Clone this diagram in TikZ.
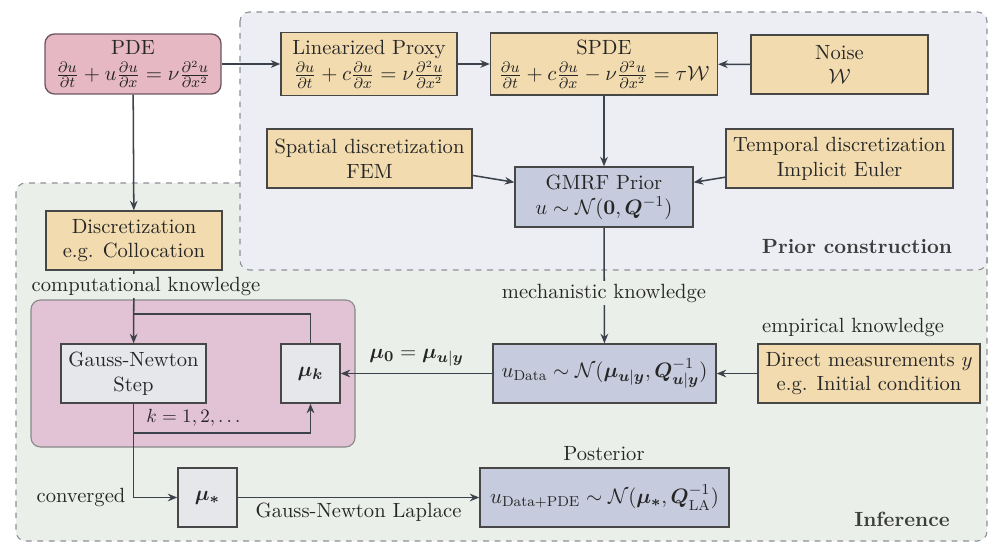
\documentclass[tikz,border=0pt]{standalone}
\usepackage{amsmath,bm}
\usetikzlibrary{arrows.meta}
\definecolor{yel}{HTML}{F2DCAF}
\definecolor{pdefill}{HTML}{E5B8C3}
\definecolor{pdeborder}{HTML}{6E5560}
\definecolor{loopfill}{HTML}{E2C3D5}
\definecolor{bluefill}{HTML}{C6CCDD}
\definecolor{grayfill}{HTML}{E6E7EA}
\definecolor{priorbg}{HTML}{ECEEF4}
\definecolor{infbg}{HTML}{EBEFEA}
\definecolor{regionborder}{HTML}{8C9099}
\definecolor{edgecol}{HTML}{3C424C}
\definecolor{ink}{HTML}{262626}
\newcommand\myfs{\fontsize{10.8}{13}\selectfont}
\begin{document}
\begin{tikzpicture}[x=0.525pt,y=-0.525pt,
  every node/.style={font=\myfs},
  sz/.style 2 args={minimum width=#1*0.525pt, minimum height=#2*0.525pt},
  box/.style={draw=ink!85, line width=0.7pt, inner sep=1pt, align=center, text=ink},
  ybox/.style={box, fill=yel},
  bbox/.style={box, fill=bluefill},
  gbox/.style={box, fill=grayfill},
  region/.style={draw=regionborder, dashed, line width=0.6pt, rounded corners=5pt},
  arr/.style={draw=edgecol, line width=0.8pt, -{Stealth[length=5pt,width=4pt]}},
  ln/.style={draw=edgecol, line width=0.8pt},
  lbl/.style={text=ink, inner sep=1.5pt},
  ttl/.style={text=ink!90, font=\myfs\bfseries}
]
\useasboundingbox[fill=white] (0,0) rectangle (1000,551);
% regions
\draw[region, fill=infbg] (16,183) rectangle (987,541);
\draw[region, fill=priorbg] (240,12) rectangle (987,270);
\draw[fill=loopfill, draw=ink!55, line width=0.6pt, rounded corners=5pt] (31,300) rectangle (355,447);

% nodes
\node[box, fill=pdefill, draw=pdeborder, rounded corners=5pt, sz={176}{60}] (pde) at (133,64)
  {PDE\\[1pt] $\frac{\partial u}{\partial t} + u\frac{\partial u}{\partial x} = \nu\frac{\partial^2 u}{\partial x^2}$};
\node[ybox, sz={176}{63}] (lin) at (369,64)
  {Linearized Proxy\\[1pt] $\frac{\partial u}{\partial t} + c\frac{\partial u}{\partial x} = \nu\frac{\partial^2 u}{\partial x^2}$};
\node[ybox, sz={227}{62}] (spde) at (604,64)
  {SPDE\\[1pt] $\frac{\partial u}{\partial t} + c\frac{\partial u}{\partial x} - \nu\frac{\partial^2 u}{\partial x^2} = \tau\mathcal{W}$};
\node[ybox, sz={177}{59}] (noise) at (839.5,64.5) {Noise\\ $\mathcal{W}$};
\node[ybox, sz={205}{59}] (spatial) at (369.5,158.5) {Spatial discretization\\ FEM};
\node[ybox, sz={227}{59}] (temporal) at (839.5,158.5) {Temporal discretization\\ Implicit Euler};
\node[bbox, sz={178}{60}] (gmrf) at (604,197) {GMRF Prior\\ $u\sim\mathcal{N}(\mathbf{0},\bm{Q}^{-1})$};
\node[ybox, sz={176}{59}] (disc) at (134,240.5) {Discretization\\ e.g. Collocation};
\node[gbox, sz={145}{59}] (gn) at (133.5,373.5) {Gauss-Newton\\ Step};
\node[gbox, sz={59}{59}] (muk) at (310.5,373.5) {$\bm{\mu}_{\bm{k}}$};
\node[bbox, sz={223}{59}] (udata) at (604.5,373.5)
  {$u_{\text{Data}}\sim\mathcal{N}(\bm{\mu}_{\bm{u}|\bm{y}},\bm{Q}^{-1}_{\bm{u}|\bm{y}})$};
\node[ybox, sz={222}{59}] (direct) at (869,373.5) {Direct measurements $y$\\ e.g. Initial condition};
\node[gbox, sz={59}{59}] (mus) at (207.5,497.5) {$\bm{\mu}_{\bm{*}}$};
\node[bbox, sz={249}{59}] (post) at (604.5,497.5)
  {$u_{\text{Data+PDE}}\sim\mathcal{N}(\bm{\mu}_{\bm{*}},\bm{Q}^{-1}_{\text{LA}})$};

% connectors
\draw[arr] (pde) -- (lin);
\draw[arr] (lin) -- (spde);
\draw[arr] (noise) -- (spde);
\draw[arr] (spde) -- (gmrf);
\draw[arr] (spatial) -- (gmrf);
\draw[arr] (temporal) -- (gmrf);
\draw[arr] (pde) -- (disc);
\draw[arr] (gmrf) -- (udata);
\draw[arr] (direct) -- (udata);
\draw[arr] (udata) -- node[lbl, above=2pt] {$\bm{\mu}_{\bm{0}} = \bm{\mu}_{\bm{u}|\bm{y}}$} (muk);
\draw[arr] (disc) -- (gn);
\coordinate (lt) at (133.5,314);
\coordinate (lb) at (133.5,433);
\draw[ln] (muk.north) |- (lt);
\draw[arr] (gn.south) -- (lb) -| (muk.south);
\draw[arr] (lb) |- (mus.west);
\draw[arr] (mus) -- node[lbl, below=1pt] {Gauss-Newton Laplace} (post);

% labels
\node[lbl, fill=infbg] (ck) at (146,286) {computational knowledge};
\node[lbl, fill=infbg] (mk) at (604,293) {mechanistic knowledge};
\node[lbl] (ek) at (853,327) {empirical knowledge};
\node[lbl] (postl) at (604,454) {Posterior};
\node[lbl] (conv) at (81,497) {converged};
\node[lbl, font=\fontsize{9.6}{11}\selectfont] (kl) at (195,418) {$k=1,2,\dots$};
\node[ttl] (pc) at (857,247) {Prior construction};
\node[ttl] (inf) at (902,519) {Inference};
\end{tikzpicture}
\end{document}
